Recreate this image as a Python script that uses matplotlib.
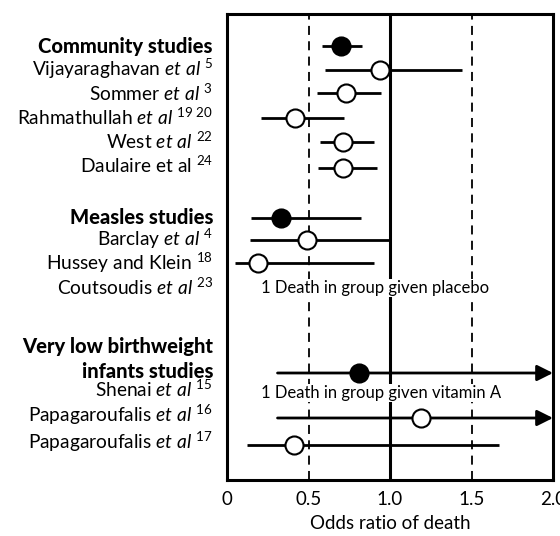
import matplotlib.pyplot as plt
import numpy as np

plt.rcParams['font.family'] = 'Lato'
plt.rcParams['mathtext.fontset'] = 'custom'
plt.rcParams['mathtext.rm'] = 'Lato'
plt.rcParams['mathtext.it'] = 'Lato:italic'
plt.rcParams['mathtext.bf'] = 'Lato:bold'

# left-hand labels (headers in bold)
label_text = ["Community studies",
              r"Vijayaraghavan $\mathit{et\ al}$ $^{5}$",
              r"Sommer $\mathit{et\ al}$ $^{3}$",
              r"Rahmathullah $\mathit{et\ al}$ $^{19\ 20}$",
              r"West $\mathit{et\ al}$ $^{22}$",
              r"Daulaire et al $^{24}$",
              "Measles studies",
              r"Barclay $\mathit{et\ al}$ $^{4}$",
              r"Hussey and Klein $^{18}$",
              r"Coutsoudis $\mathit{et\ al}$ $^{23}$",
              "Very low birthweight",
              "infants studies",
              r"Shenai $\mathit{et\ al}$ $^{15}$",
              r"Papagaroufalis $\mathit{et\ al}$ $^{16}$",
              r"Papagaroufalis $\mathit{et\ al}$ $^{17}$"]
label_bold = [True, False, False, False, False, False, True, False, False, False,
              True, True, False, False, False]
label_y = [46, 69, 93, 117, 141, 165, 217, 239, 263, 287, 346, 371, 389, 415, 442]

# odds ratios with confidence intervals
point_y = [46, 70, 93, 118, 142, 168, 218, 240, 263, 373, 418, 445]
odds = [0.70, 0.94, 0.73, 0.42, 0.71, 0.71, 0.33, 0.49, 0.19, 0.81, 1.19, 0.41]
ci_low = [0.58, 0.60, 0.55, 0.21, 0.57, 0.56, 0.15, 0.14, 0.05, 0.31, 0.31, 0.12]
ci_high = [0.83, 1.44, 0.945, 0.72, 0.90, 0.92, 0.82, 1.00, 0.90, 2.0, 2.0, 1.67]
pooled = [True, False, False, False, False, False, True, False, False, True, False, False]

# notes for studies without an estimate
note_text = ["1 Death in group given placebo", "1 Death in group given vitamin A"]
note_y = [288, 393]
note_x = 0.21

fig = plt.figure(figsize=(5.6, 5.36), dpi=100)
ax = fig.add_axes([227 / 560, 56 / 536, 326 / 560, 466 / 536])
ax.set_xlim(0, 2.0)
ax.set_ylim(480, 14)

for x in [0.5, 1.5]:
    ax.axvline(x, color='black', lw=1.3, ls=(0, (5, 3.5)), zorder=1)
ax.axvline(1.0, color='black', lw=2.2, zorder=1)

for y, o, lo, hi, p in zip(point_y, odds, ci_low, ci_high, pooled):
    if hi >= 2.0:
        ax.annotate('', xy=(2.0, y), xytext=(lo, y),
                    arrowprops=dict(arrowstyle='-|>', color='black', lw=2,
                                    mutation_scale=24, shrinkA=0, shrinkB=0),
                    annotation_clip=False, zorder=2)
    else:
        ax.plot([lo, hi], [y, y], color='black', lw=2, solid_capstyle='butt', zorder=2)
    ax.plot(o, y, 'o', ms=13, mec='black', mew=1.5,
            mfc='black' if p else 'white', zorder=3)

for t, y in zip(note_text, note_y):
    ax.text(note_x, y, t, fontsize=12, va='center', ha='left', zorder=4,
            bbox=dict(facecolor='white', edgecolor='none', pad=1))

for t, y, b in zip(label_text, label_y, label_bold):
    fig.text(213 / 560, 1 - y / 536, t, fontsize=14.5 if b else 13.8,
             ha='right', va='center', fontweight='black' if b else 'normal')

ax.set_yticks([])
ax.set_xticks([0, 0.5, 1.0, 1.5, 2.0])
ax.set_xticklabels(['0', '0.5', '1.0', '1.5', '2.0'], fontsize=13.5)
ax.tick_params(axis='x', length=0, pad=8)
ax.set_xlabel('Odds ratio of death', fontsize=13.5, labelpad=5)
for s in ax.spines.values():
    s.set_linewidth(2.2)

fig.savefig('out.png', dpi=100)
